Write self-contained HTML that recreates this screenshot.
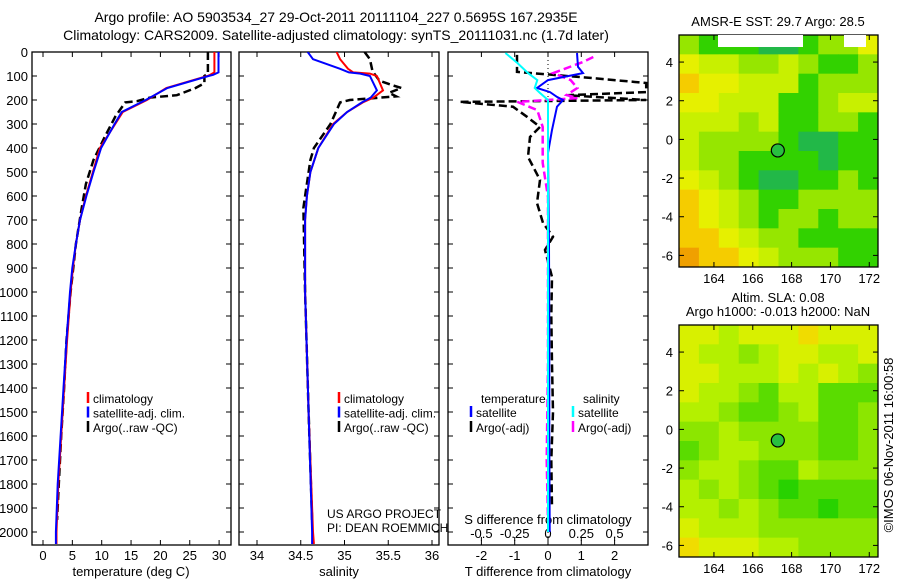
<!DOCTYPE html>
<html><head><meta charset="utf-8"><style>
body{margin:0;background:#fff;}
svg{display:block;font-family:"Liberation Sans",sans-serif;}
</style></head><body>
<svg id="fig" width="900" height="580" xmlns="http://www.w3.org/2000/svg">
<rect x="0" y="0" width="900" height="580" fill="#fff"/>
<text x="336" y="22" font-size="14" text-anchor="middle">Argo profile: AO 5903534_27 29-Oct-2011 20111104_227 0.5695S 167.2935E</text>
<text x="336" y="40" font-size="14" text-anchor="middle">Climatology: CARS2009. Satellite-adjusted climatology: synTS_20111031.nc (1.7d later)</text>
<text x="778" y="26" font-size="13" text-anchor="middle">AMSR-E SST: 29.7 Argo: 28.5</text>
<text x="778" y="302" font-size="13" text-anchor="middle">Altim. SLA: 0.08</text>
<text x="778" y="316" font-size="13" text-anchor="middle">Argo h1000: -0.013 h2000: NaN</text>
<text transform="translate(893,445) rotate(-90)" font-size="13" text-anchor="middle">©IMOS 06-Nov-2011 16:00:58</text>
<g id="g"></g>
</svg>
<script>
// ---- data ----
const depthTicks=[0,100,200,300,400,500,600,700,800,900,1000,1100,1200,1300,1400,1500,1600,1700,1800,1900,2000];
const tempTicks=[0,5,10,15,20,25,30];
const salTicks=[34,34.5,35,35.5,36];
const salTickLabels=["34","34.5","35","35.5","36"];
const tdTicks=[-2,-1,0,1,2];
const sdTicks=[-0.5,-0.25,0,0.25,0.5];
const sdTickLabels=["-0.5","-0.25","0","0.25","0.5"];

const depClim=[0,85,95,100,150,200,250,300,400,500,600,700,800,900,1000,1200,1400,1600,1800,2000,2050];
const tempClim=[29.2,29.2,28.5,28,21,17.7,13.6,12.3,9.7,8.5,7.3,6.3,5.6,5.1,4.7,4.1,3.6,3.1,2.6,2.3,2.3];
const tempSat=[29.9,29.9,29,28.2,21.2,17.5,13.4,12.2,9.9,8.6,7.4,6.3,5.6,5.0,4.6,4.0,3.5,3.0,2.5,2.2,2.2];
const depArgoT=[0,90,100,130,150,180,190,205,210,270,350,450,550,650,800,1000,1200,1400,1600,1800,1950];
const tempArgo=[28.1,28.1,27.5,27.5,26,22.8,18.2,16,14,12.3,10.6,8.6,7.3,6.6,5.6,4.7,4.0,3.6,3.1,2.7,2.4];

const depSal=[0,30,70,85,90,100,160,190,210,250,300,400,500,600,700,1000,1500,2000,2050];
const salClim=[34.91,34.95,35.04,35.1,35.29,35.37,35.44,35.33,35.21,35.03,34.87,34.7,34.61,34.57,34.55,34.55,34.59,34.64,34.65];
const salSat=[34.58,34.64,34.95,35.05,35.18,35.29,35.37,35.3,35.2,35.03,34.88,34.7,34.61,34.57,34.55,34.55,34.59,34.63,34.63];
const depArgoS=[0,30,80,120,140,150,170,185,200,210,300,400,450,600,650,1000,1500,1950];
const salArgo=[35.23,35.29,35.32,35.4,35.56,35.65,35.51,35.59,35.06,34.95,34.84,34.65,34.61,34.55,34.53,34.55,34.59,34.63];

const depTdSat=[4,62,88,117,150,167,187,200,228,325,420,800,1200,1600,2000];
const tdSat=[0.87,0.9,1.05,0,-0.33,0.06,0.27,0.45,0.27,0.12,0,0.03,0.04,0.04,0.05];
const depSdSat=[4,46,88,117,150,171,200,400,800,1200,1600,2000];
const sdSat=[-0.32,-0.23,-0.15,-0.08,-0.1,-0.06,0,0,0,0,0,0];
const depSdArgo=[21,42,88,117,150,179,192,208,242,312,462,604,900,1300,1700,1950];
const sdArgo=[0.34,0.26,0.04,0.17,0.22,0.14,0.22,-0.23,-0.08,-0.04,-0.04,0,0,0,-0.01,0];
const depTdArgo=[12,83,108,129,167,180,200,208,228,270,312,354,437,533,629,712,770,825,937,1100,1300,1500,1700,1900];
const tdArgo=[-0.93,-0.93,1.27,2.95,2.95,0.57,2.95,-2.65,-1.05,-0.63,-0.24,-0.54,-0.6,-0.24,-0.33,-0.15,0.15,-0.09,0.12,0.1,0.12,0.15,0.1,0.12];

const lonTicks=[164,166,168,170,172];
const latTicks=[4,2,0,-2,-4,-6];
const sstGrid=[
[4,5,5,5,6,6,5,4,4,2],
[2,3,3,4,4,3,4,5,5,4],
[1,2,2,3,3,3,5,4,4,4],
[2,2,3,3,3,5,5,4,3,3],
[3,3,3,4,3,5,5,4,4,5],
[3,4,4,4,4,5,6,6,5,5],
[3,4,4,5,5,5,5,6,5,5],
[2,3,4,5,6,6,5,5,4,5],
[1,2,3,4,5,5,4,4,4,4],
[1,2,3,4,5,4,4,5,4,4],
[1,1,2,3,4,4,5,5,5,5],
[0,1,1,2,3,4,4,4,5,5]];
const slaGrid=[
[1,1,2,1,1,1,0,1,1,1],
[1,2,2,3,2,1,1,2,2,1],
[1,1,2,2,2,1,2,1,2,3],
[1,2,2,3,4,2,2,4,4,4],
[2,2,3,4,4,3,2,4,4,3],
[3,3,2,3,3,3,3,4,4,3],
[4,3,2,2,3,3,3,4,4,3],
[3,2,2,3,4,4,2,3,3,3],
[2,3,2,3,4,5,4,4,4,4],
[2,2,3,2,3,4,4,5,4,4],
[1,2,2,2,3,3,3,3,3,3],
[0,1,1,1,2,2,3,3,3,3]];
const floatLon=167.29, floatLat=-0.57;

// ---- helpers ----
const NS="http://www.w3.org/2000/svg";
const G=document.getElementById('g');
function el(t,a,p){const e=document.createElementNS(NS,t);for(const k in a)e.setAttribute(k,a[k]);(p||G).appendChild(e);return e;}
const Y=d=>52+d*0.24;
const panels=[
 {x0:32,x1:231,fx:v=>43+v*5.87,name:'temperature'},
 {x0:239,x1:439,fx:v=>257+(v-34)*87.5,name:'salinity'},
 {x0:448,x1:648,fx:v=>548+v*33.3,name:'difference'}];
const sdx=v=>548+v*133.2;

// clip
const defs=el('defs',{});
panels.forEach((p,i)=>{const c=el('clipPath',{id:'c'+i},defs);el('rect',{x:p.x0,y:52,width:p.x1-p.x0,height:493},c);});

function line(xs,ds,fx,color,dash,w,clip,name){
  const pts=xs.map((v,i)=>fx(v).toFixed(1)+','+Y(ds[i]).toFixed(1)).join(' ');
  const e=el('polyline',{points:pts,fill:'none',stroke:color,'stroke-width':w,'clip-path':'url(#c'+clip+')'});
  if(dash)e.setAttribute('stroke-dasharray',dash);
  
  
}

// frames & ticks
panels.forEach((p,i)=>{
  const f=el('rect',{x:p.x0,y:52,width:p.x1-p.x0,height:493,fill:'none',stroke:'#000','stroke-width':1.3});
  
  
  depthTicks.forEach(d=>{
    el('line',{x1:p.x0,x2:p.x0+5,y1:Y(d),y2:Y(d),stroke:'#000'});
    el('line',{x1:p.x1,x2:p.x1-5,y1:Y(d),y2:Y(d),stroke:'#000'});
  });
});
depthTicks.forEach(d=>{
  const t=el('text',{x:28,y:Y(d)+5,'font-size':13,'text-anchor':'end'});t.textContent=d;
  
  
});
function xticks(p,ticks,labels){
  ticks.forEach((v,i)=>{
    const x=p.fx(v);
    el('line',{x1:x,x2:x,y1:545,y2:540,stroke:'#000'});
    el('line',{x1:x,x2:x,y1:52,y2:57,stroke:'#000'});
    const t=el('text',{x:x,y:560,'font-size':13,'text-anchor':'middle'});t.textContent=labels[i];
    
    
  });
}
xticks(panels[0],tempTicks,tempTicks.map(String));
xticks(panels[1],salTicks,salTickLabels);
xticks(panels[2],tdTicks,tdTicks.map(String));
sdTicks.forEach((v,i)=>{
  const x=sdx(v);
  el('line',{x1:x,x2:x,y1:537,y2:541,stroke:'#000'});
  const t=el('text',{x:x,y:538,'font-size':13,'text-anchor':'middle'});t.textContent=sdTickLabels[i];
  
  
});
[['temperature (deg C)',131,'x-axis-title-temperature'],['salinity',339,'x-axis-title-salinity'],['T difference from climatology',548,'x-axis-title-t-diff']].forEach(a=>{
  const t=el('text',{x:a[1],y:576,'font-size':13,'text-anchor':'middle'});t.textContent=a[0];
  
  
});
{const t=el('text',{x:548,y:524,'font-size':13,'text-anchor':'middle'});t.textContent='S difference from climatology';
 
 }

// zero dotted line in diff panel
el('line',{x1:548,x2:548,y1:52,y2:545,stroke:'#000','stroke-dasharray':'1,3'});

// series
const P=panels;
line(tempArgo,depArgoT,P[0].fx,'#000','8,4',2.5,0,'temp-argo-line');
line(tempClim,depClim,P[0].fx,'#f00',null,2,0,'temp-climatology-line');
line(tempSat,depClim,P[0].fx,'#00f',null,2,0,'temp-satellite-line');
line(salArgo,depArgoS,P[1].fx,'#000','8,4',2.5,1,'sal-argo-line');
line(salClim,depSal,P[1].fx,'#f00',null,2,1,'sal-climatology-line');
line(salSat,depSal,P[1].fx,'#00f',null,2,1,'sal-satellite-line');
line(tdArgo,depTdArgo,P[2].fx,'#000','8,4',2.5,2,'t-diff-argo-line');
line(sdArgo,depSdArgo,sdx,'#f0f','8,4',2.5,2,'s-diff-argo-line');
line(tdSat,depTdSat,P[2].fx,'#00f',null,2,2,'t-diff-satellite-line');
line(sdSat,depSdSat,sdx,'#0ff',null,2,2,'s-diff-satellite-line');

// legends
function leg(x,y,color,label,name){
  el('line',{x1:x,x2:x,y1:y-11,y2:y,stroke:color,'stroke-width':2.5});
  const t=el('text',{x:x+5,y:y,'font-size':12});t.textContent=label;
  
  
}
[[88,'#f00','climatology'],[88,'#00f','satellite-adj. clim.'],[88,'#000','Argo(..raw -QC)']].forEach((a,i)=>leg(a[0],403+i*14.5,a[1],a[2],'temp-legend-entry'));
[[339,'#f00','climatology'],[339,'#00f','satellite-adj. clim.'],[339,'#000','Argo(..raw -QC)']].forEach((a,i)=>leg(a[0],403+i*14.5,a[1],a[2],'sal-legend-entry'));
{const t=el('text',{x:481,y:403,'font-size':12});t.textContent='temperature';
 const s=el('text',{x:583,y:403,'font-size':12});s.textContent='salinity';}
leg(471,417,'#00f','satellite','diff-legend-entry');
leg(471,432,'#000','Argo(-adj)','diff-legend-entry');
leg(573,417,'#0ff','satellite','diff-legend-entry');
leg(573,432,'#f0f','Argo(-adj)','diff-legend-entry');
{const t=el('text',{x:327,y:518,'font-size':12});t.textContent='US ARGO PROJECT';
 const s=el('text',{x:327,y:532,'font-size':12});s.textContent='PI: DEAN ROEMMICH';}

// maps
const sstCol=['#f0a000','#f5cc00','#e6f000','#c8f000','#96e600','#32d200','#22b848'];
const slaCol=['#f0dc00','#d8f000','#b4f000','#8ce600','#5adc00','#28d200'];
const LON0=162.2,LON1=172.45,LAT0=5.4,LAT1=-6.6;
function drawMap(top,grid,cols,name){
  const mx=lon=>679+(lon-LON0)*(199/(LON1-LON0));
  const my=lat=>top+(LAT0-lat)*(232/(LAT0-LAT1));
  const nr=grid.length,nc=grid[0].length,cw=199/nc,ch=232/nr;
  grid.forEach((row,r)=>row.forEach((v,c)=>{
    const e=el('rect',{x:679+c*cw,y:top+r*ch,width:cw+0.5,height:ch+0.5,fill:cols[v]});
    
    
  }));
  const f=el('rect',{x:679,y:top,width:199,height:232,fill:'none',stroke:'#000','stroke-width':1.3});
  
  
  lonTicks.forEach(l=>{const x=mx(l);
    el('line',{x1:x,x2:x,y1:top+232,y2:top+227,stroke:'#000'});
    el('line',{x1:x,x2:x,y1:top,y2:top+5,stroke:'#000'});
    const t=el('text',{x:x,y:top+248,'font-size':13,'text-anchor':'middle'});t.textContent=l;
    
    });
  latTicks.forEach(l=>{const y=my(l);
    el('line',{x1:679,x2:684,y1:y,y2:y,stroke:'#000'});
    el('line',{x1:878,x2:873,y1:y,y2:y,stroke:'#000'});
    const t=el('text',{x:673,y:y+5,'font-size':13,'text-anchor':'end'});t.textContent=l;
    
    });
  const m=el('circle',{cx:mx(floatLon),cy:my(floatLat),r:6.5,fill:'#28c040',stroke:'#000','stroke-width':1.2});
  
  
}
drawMap(35,sstGrid,sstCol,'sst-map');
// white missing-data patch in SST map
{const w=el('rect',{x:718,y:35,width:85,height:12,fill:'#fff'});
 const w2=el('rect',{x:844,y:35,width:22,height:12,fill:'#fff'});}
drawMap(325,slaGrid,slaCol,'sla-map');
</script>
</body></html>
